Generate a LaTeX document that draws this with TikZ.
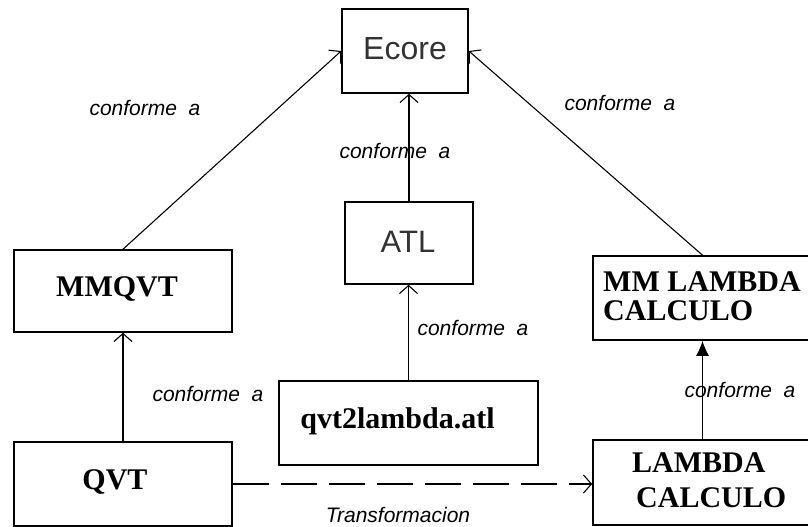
\documentclass[tikz,border=0pt]{standalone}
\usepackage{fontspec}
\setmainfont{Liberation Serif}
\newfontfamily\arialf{Liberation Sans}
\usetikzlibrary{arrows.meta}

\begin{document}
\begin{tikzpicture}[x=1pt,y=-1pt,
  box/.style={draw, line width=1.6pt, inner sep=0pt},
  sanstxt/.style={inner sep=0pt, text=black!80, font=\arialf\fontsize{32}{38}\selectfont},
  serftxt/.style={inner sep=0pt, font=\bfseries\fontsize{30}{30}\selectfont},
  lbl/.style={inner sep=0pt, font=\arialf\itshape\fontsize{21}{24}\selectfont},
  link/.style={line width=1.1pt},
  opentip/.style={-{Straight Barb[length=8pt,width=18pt]}},
  filltip/.style={-{Latex[length=15pt,width=13pt]}}
]
\useasboundingbox (0,0) rectangle (808,527);

% boxes
\node[box, minimum width=126pt, minimum height=84pt] (ecore) at (405,51) {};
\node[box, minimum width=128pt, minimum height=82pt] (atl) at (409,243) {};
\node[box, minimum width=218pt, minimum height=82pt] (mmqvt) at (123,291) {};
\node[box, minimum width=219pt, minimum height=84pt] (mmlam) at (702.5,298) {};
\node[box, minimum width=259pt, minimum height=84pt] (q2l) at (408.5,423) {};
\node[box, minimum width=218pt, minimum height=84pt] (qvt) at (123,484) {};
\node[box, minimum width=219pt, minimum height=85pt] (lam) at (702.5,482.5) {};

% box texts
\node[sanstxt] (ecoreT) at (405,49) {Ecore};
\node[sanstxt, font=\arialf\fontsize{31}{36}\selectfont] (atlT) at (408,242) {ATL};
\node[serftxt, anchor=base] (mmqvtT) at (117,296.7) {MMQVT};
\node[serftxt, anchor=base] (q2lT) at (397.5,428) {qvt2lambda.atl};
\node[serftxt, anchor=base] (qvtT) at (115,489) {QVT};
\node[serftxt, anchor=north west, align=left, font=\bfseries\fontsize{30}{28.5}\selectfont]
  (mmlamT) at (603,271.8) {MM LAMBDA\\CALCULO};
\node[serftxt, anchor=north west, align=left, font=\bfseries\fontsize{30}{35}\selectfont]
  (lamT) at (632,452) {LAMBDA\\\hspace*{4pt}CALCULO};

% connectors
\draw[link, opentip] (mmqvt.north) -- (ecore.west);
\draw[link, opentip] (mmlam.north) -- (ecore.east);
\draw[link, opentip] (atl.north) -- (atl.north |- ecore.south);
\draw[link, opentip] (q2l.north) -- (q2l.north |- atl.south);
\draw[link, opentip] (qvt.north) -- (mmqvt.south);
\draw[link, filltip] (lam.north) -- (lam.north |- mmlam.south);
\draw[link, opentip, dash pattern=on 36pt off 12pt] (qvt.east) -- (qvt.east -| lam.west);

% connector labels
\node[lbl] (l1) at (145,108) {conforme\ \ a};
\node[lbl] (l2) at (395,151) {conforme\ \ a};
\node[lbl] (l3) at (620,103) {conforme\ \ a};
\node[lbl] (l4) at (473,328) {conforme\ \ a};
\node[lbl] (l5) at (208,394) {conforme\ \ a};
\node[lbl] (l6) at (740,390) {conforme\ \ a};
\node[lbl] (l7) at (398,515) {Transformacion};
\end{tikzpicture}
\end{document}
